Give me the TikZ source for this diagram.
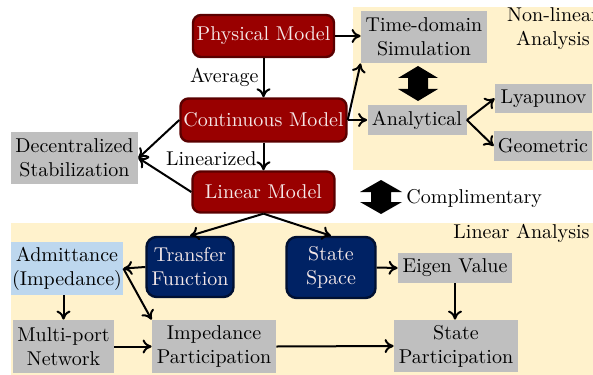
\documentclass[tikz,border=0pt]{standalone}
\usetikzlibrary{arrows.meta}
\definecolor{bgy}{RGB}{255,242,204}
\definecolor{gbox}{RGB}{191,191,191}
\definecolor{redf}{RGB}{153,0,0}
\definecolor{redd}{RGB}{90,0,0}
\definecolor{bluef}{RGB}{0,34,100}
\definecolor{blued}{RGB}{0,16,50}
\definecolor{lblue}{RGB}{189,215,238}
\definecolor{ltext}{RGB}{245,232,232}
\tikzset{
  graybox/.style={fill=gbox, inner sep=0pt, align=center},
  redbox/.style={fill=redf, draw=redd, line width=1.2pt, rounded corners=4pt, text=ltext, inner sep=0pt, align=center},
  bluebox/.style={fill=bluef, draw=blued, line width=1.2pt, rounded corners=5pt, text=ltext, inner sep=0pt, align=center},
  adm/.style={fill=lblue, inner sep=0pt, align=center},
  arr/.style={-{To[length=4.5pt,width=7pt]}, line width=1pt},
  lbl/.style={inner sep=0pt, align=center}
}
\begin{document}
\begin{tikzpicture}[x=0.5pt,y=-0.5pt]
\useasboundingbox (0,0) rectangle (593,374);
% backgrounds
\fill[bgy] (353,7) rectangle (610,170);
\fill[bgy] (11,223) rectangle (610,380);
\node[lbl] (nla) at (553,29) {Non-linear\\Analysis};
\node[lbl, anchor=east] (la) at (590,233) {Linear Analysis};
% top models
\node[redbox, minimum width=70.5pt, minimum height=21pt] (phys) at (263.5,36) {Physical Model};
\node[redbox, minimum width=83pt, minimum height=21.5pt] (cont) at (263.5,120) {Continuous Model};
\node[redbox, minimum width=71pt, minimum height=20.5pt] (lin) at (263.5,192) {Linear Model};
% nonlinear analysis
\node[graybox, minimum width=63pt, minimum height=26pt] (td) at (424,37) {Time-domain\\Simulation};
\node[graybox, minimum width=49.5pt, minimum height=15pt] (ana) at (417,120) {Analytical};
\node[graybox, minimum width=48.5pt, minimum height=14.5pt] (lya) at (543.5,98.5) {Lyapunov};
\node[graybox, minimum width=49pt, minimum height=15pt] (geo) at (543,146) {Geometric};
% decentralized
\node[graybox, minimum width=63.5pt, minimum height=26pt] (dec) at (74.5,158) {Decentralized\\Stabilization};
% linear analysis
\node[bluebox, minimum width=43.5pt, minimum height=30pt] (tf) at (190,267) {Transfer\\Function};
\node[bluebox, minimum width=44.5pt, minimum height=30.5pt] (ss) at (331,267.5) {State\\Space};
\node[adm, minimum width=56pt, minimum height=26.5pt] (adm) at (67,268.5) {Admittance\\(Impedance)};
\node[graybox, minimum width=50.5pt, minimum height=26.5pt] (mpn) at (63.5,346.5) {Multi-port\\Network};
\node[graybox, minimum width=62pt, minimum height=26.5pt] (ip) at (214,346.5) {Impedance\\Participation};
\node[graybox, minimum width=62pt, minimum height=26pt] (sp) at (456,346) {State\\Participation};
\node[graybox, minimum width=57pt, minimum height=15pt] (ev) at (455,268) {Eigen Value};
% fat double arrows
\fill (418,66) -- (438,78) -- (428,78) -- (428,89) -- (438,89) -- (418,101)
  -- (398,89) -- (408,89) -- (408,78) -- (398,78) -- cycle;
\fill (381,180) -- (402,192) -- (391,192) -- (391,202) -- (402,202) -- (381,214)
  -- (360,202) -- (371,202) -- (371,192) -- (360,192) -- cycle;
\node[lbl, anchor=west] (comp) at (406,198) {Complimentary};
% connectors
\draw[arr] (phys) -- node[lbl, anchor=east, xshift=-2pt] (avg) {Average} (cont);
\draw[arr] (cont) -- node[lbl, anchor=east, xshift=-3pt, yshift=-1pt] (linz) {Linearized} (lin);
\draw[arr] (phys.east) -- (td.west |- phys.east);
\draw[arr] (cont.east) -- (ana.west);
\draw[arr] (cont.east) -- (td.south west);
\draw[arr] (ana.east) -- (lya.west);
\draw[arr] (ana.east) -- (geo.west);
\draw[arr] (cont.west) -- (dec.east);
\draw[arr] (lin.west) -- (dec.east);
\draw[arr] (lin.south) -- (tf.north);
\draw[arr] (lin.south) -- (ss.north);
\draw[arr] (tf.west) -- (adm.east);
\draw[arr] (adm.east) -- (ip.north west);
\draw[arr] (mpn.north |- adm.south) -- (mpn.north);
\draw[arr] (mpn.east) -- (ip.west);
\draw[arr] (ip.east) -- (sp.west);
\draw[arr] (ss.east) -- (ev.west);
\draw[arr] (ev.south) -- (ev.south |- sp.north);
\end{tikzpicture}
\end{document}
